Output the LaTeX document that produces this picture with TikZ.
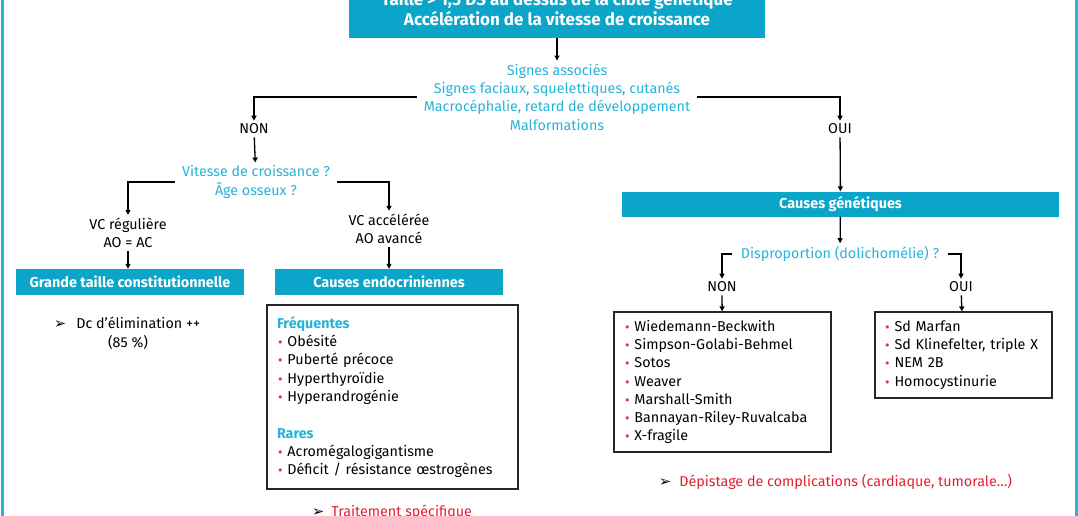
\documentclass[tikz,border=0pt]{standalone}
\usepackage{fontspec}
\setmainfont{Fira Sans}
\newfontfamily\symfont{DejaVu Sans}
\usetikzlibrary{arrows.meta}
\definecolor{boxcyan}{HTML}{0AA5C9}
\definecolor{txtcyan}{HTML}{26B3D8}
\definecolor{bulpink}{HTML}{D92E78}
\definecolor{alertred}{HTML}{E3202F}
\definecolor{edgecyan}{HTML}{2AB4DB}
\newcommand\mybul{\textcolor{bulpink}{\symfont\fontsize{11}{11}\selectfont •}\hspace{4pt}}
\newcommand\myarr{{\symfont\fontsize{14.5}{14}\selectfont ➢}}
\begin{document}
\begin{tikzpicture}[x=1pt,y=-1pt,
 every node/.style={font=\fontsize{14.3}{18.3}\selectfont, inner sep=3pt},
 cyanbox/.style={fill=boxcyan, text=white, font=\bfseries\fontsize{14.4}{18}\selectfont, minimum height=26pt, inner sep=0pt},
 qtext/.style={text=txtcyan, align=center, inner xsep=7pt},
 ptext/.style={align=center},
 listbox/.style={draw=black!85, line width=1.3pt, align=left, inner ysep=0pt},
 link/.style={line width=1.3pt, -{Triangle[length=5pt,width=5pt]}},
]
\useasboundingbox (0,0) rectangle (1078,516);
\clip (0,0) rectangle (1078,516);
\draw[edgecyan, line width=3pt] (2,0) -- (2,516);
\draw[edgecyan, line width=3pt] (1076,0) -- (1076,516);

\node[cyanbox, minimum width=416pt, minimum height=58pt, align=center, font=\bfseries\fontsize{17}{20}\selectfont] (top) at (557,9) {Taille > 1,5 DS au dessus de la cible génétique\\Accélération de la vitesse de croissance};
\node[qtext] (signes) at (557,97) {Signes associés\\Signes faciaux, squelettiques, cutanés\\Macrocéphalie, retard de développement\\Malformations};
\node (non1) at (254,129) {NON};
\node (oui1) at (840,129) {OUI};
\draw[link] (top) -- (signes);
\draw[link] (signes.west) -| (non1.north);
\draw[link] (signes.east) -| (oui1.north);

\node[qtext] (vit) at (256,182) {Vitesse de croissance ?\\Âge osseux ?};
\draw[link] (non1) -- (vit);
\node[ptext] (vcr) at (128,233) {VC régulière\\AO = AC};
\node[ptext] (vca) at (389,229) {VC accélérée\\AO avancé};
\draw[link] (vit.west) -| (vcr.north);
\draw[link] (vit.east) -| (vca.north);
\node[cyanbox, minimum width=228pt] (gtc) at (130,282) {Grande taille constitutionnelle};
\node[cyanbox, minimum width=228pt] (endo) at (389,282) {Causes endocriniennes};
\draw[link] (vcr.south) -- (vcr.south |- gtc.north);
\draw[link] (vca.south) -- (vca.south |- endo.north);

\node[anchor=west] (dc) at (51,323) {\myarr\hspace{10pt}Dc d’élimination ++};
\node (pct) at (128,342) {(85 \%)};

\node[listbox, minimum width=251pt, minimum height=184pt, inner xsep=10pt, text width=231pt] (endol) at (392.5,397) {{\color{txtcyan}\bfseries Fréquentes}\\
\mybul Obésité\\
\mybul Puberté précoce\\
\mybul Hyperthyroïdie\\
\mybul Hyperandrogénie\\[18.3pt]
{\color{txtcyan}\bfseries Rares}\\
\mybul Acromégalogigantisme\\
\mybul Déficit / résistance œstrogènes};
\node[anchor=west] (trt) at (309,512) {\myarr\hspace{7pt}\textcolor{alertred}{Traitement spécifique}};

\node[cyanbox, minimum width=437pt, minimum height=25pt] (gen) at (840.5,204) {Causes génétiques};
\draw[link] (oui1) -- (gen);
\node[qtext, inner xsep=9pt] (disp) at (840,254) {Disproportion (dolichomélie) ?};
\draw[link] (gen) -- (disp);
\node (non2) at (722,287) {NON};
\node (oui2) at (961,287) {OUI};
\draw[link] (disp.west) -| (non2.north);
\draw[link] (disp.east) -| (oui2.north);
\node[listbox, minimum width=217pt, minimum height=140pt, inner xsep=10pt, text width=197pt] (nonl) at (722.5,382) {\mybul Wiedemann-Beckwith\\
\mybul Simpson-Golabi-Behmel\\
\mybul Sotos\\
\mybul Weaver\\
\mybul Marshall-Smith\\
\mybul Bannayan-Riley-Ruvalcaba\\
\mybul X-fragile};
\node[listbox, minimum width=177pt, minimum height=86pt, inner xsep=9pt, text width=159pt] (ouil) at (963.5,355) {\mybul Sd Marfan\\
\mybul Sd Klinefelter, triple X\\
\mybul NEM 2B\\
\mybul Homocystinurie};
\draw[link] (non2) -- (nonl);
\draw[link] (oui2) -- (ouil);
\node[anchor=west] (dep) at (656,482) {\myarr\hspace{8pt}\textcolor{alertred}{Dépistage de complications (cardiaque, tumorale…)}};
\end{tikzpicture}
\end{document}
